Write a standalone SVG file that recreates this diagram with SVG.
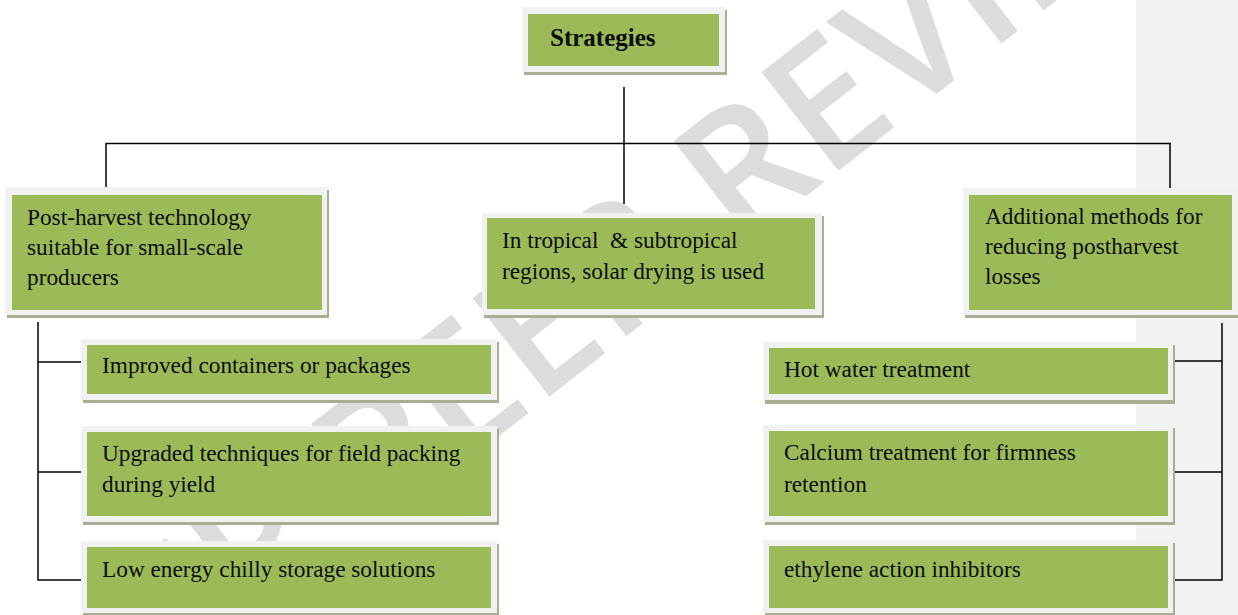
<svg xmlns="http://www.w3.org/2000/svg" width="1238" height="615" viewBox="0 0 1238 615">
<style>
.sh{fill:#a9ae92}
.fr{fill:#f1f1f1}
.gr{fill:#9bbb59}
.t{font-family:"Liberation Serif","Times New Roman",serif;font-size:23.3px;fill:#0d0d0d;white-space:pre}
.tb{font-family:"Liberation Serif","Times New Roman",serif;font-size:25px;font-weight:bold;fill:#0d0d0d}
.ln{stroke:#000;stroke-width:1.5;fill:none}
.wm{font-family:"Open Sans","DejaVu Sans",sans-serif;font-size:175px;font-weight:600;fill:#dcdcdc}
</style>
<rect x="0" y="0" width="1238" height="615" fill="#ffffff"/>
<rect x="1136" y="0" width="102" height="615" fill="#f2f2f2"/>
<text class="wm" x="0" y="62" text-anchor="middle" transform="translate(512 347) rotate(-38)">UNDER PEER REVIEW</text>

<g id="connectors">
<path class="ln" d="M624,87 V204"/>
<path class="ln" d="M106,143.5 H1171"/>
<path class="ln" d="M106,143 V187"/>
<path class="ln" d="M1170,144 V188"/>
<path class="ln" d="M38,322 V580 H81 M38,362 H81 M38,472 H81"/>
<path class="ln" d="M1222,323 V580 H1175 M1222,361 H1175 M1222,472 H1175"/>
</g>

<g id="strategies">
<rect class="sh" x="524" y="10" width="203" height="65"/>
<rect class="fr" x="522" y="7" width="203" height="65"/>
<rect class="gr" x="528" y="14" width="191" height="52"/>
<text class="tb" x="550" y="46">Strategies</text>
</g>

<g id="postharvest">
<rect class="sh" x="7" y="190" width="322" height="128"/>
<rect class="fr" x="5" y="187" width="322" height="128"/>
<rect class="gr" x="12" y="195" width="310" height="115"/>
<text class="t" x="27" y="225">Post-harvest technology</text>
<text class="t" x="27" y="255">suitable for small-scale</text>
<text class="t" x="27" y="285">producers</text>
</g>

<g id="tropical">
<rect class="sh" x="484" y="216" width="340" height="102"/>
<rect class="fr" x="482" y="213" width="340" height="102"/>
<rect class="gr" x="487" y="218" width="328" height="91"/>
<text class="t" x="502" y="248">In tropical  &amp; subtropical</text>
<text class="t" x="502" y="279">regions, solar drying is used</text>
</g>

<g id="additional">
<rect class="sh" x="965" y="191" width="275" height="127"/>
<rect class="fr" x="963" y="188" width="275" height="127"/>
<rect class="gr" x="969" y="195" width="263" height="115"/>
<text class="t" x="985" y="224">Additional methods for</text>
<text class="t" x="985" y="254">reducing postharvest</text>
<text class="t" x="985" y="284">losses</text>
</g>

<g id="containers">
<rect class="sh" x="83" y="342" width="416" height="61"/>
<rect class="fr" x="81" y="339" width="416" height="61"/>
<rect class="gr" x="87" y="345" width="404" height="49"/>
<text class="t" x="102" y="373">Improved containers or packages</text>
</g>

<g id="fieldpacking">
<rect class="sh" x="83" y="429" width="416" height="96"/>
<rect class="fr" x="81" y="426" width="416" height="96"/>
<rect class="gr" x="87" y="432" width="404" height="84"/>
<text class="t" x="102" y="461">Upgraded techniques for field packing</text>
<text class="t" x="102" y="492">during yield</text>
</g>

<g id="chillystorage">
<rect class="sh" x="83" y="544" width="416" height="72"/>
<rect class="fr" x="81" y="541" width="416" height="72"/>
<rect class="gr" x="87" y="547" width="404" height="61"/>
<text class="t" x="102" y="577">Low energy chilly storage solutions</text>
</g>

<g id="hotwater">
<rect class="sh" x="765" y="345" width="410" height="59"/>
<rect class="fr" x="763" y="342" width="410" height="58"/>
<rect class="gr" x="769" y="348" width="399" height="46"/>
<text class="t" x="784" y="377">Hot water treatment</text>
</g>

<g id="calcium">
<rect class="sh" x="765" y="428" width="410" height="97"/>
<rect class="fr" x="763" y="425" width="410" height="97"/>
<rect class="gr" x="769" y="431" width="399" height="85"/>
<text class="t" x="784" y="460">Calcium treatment for firmness</text>
<text class="t" x="784" y="492">retention</text>
</g>

<g id="ethylene">
<rect class="sh" x="765" y="543" width="410" height="73"/>
<rect class="fr" x="763" y="540" width="410" height="73"/>
<rect class="gr" x="769" y="546" width="399" height="62"/>
<text class="t" x="784" y="577">ethylene action inhibitors</text>
</g>
</svg>
